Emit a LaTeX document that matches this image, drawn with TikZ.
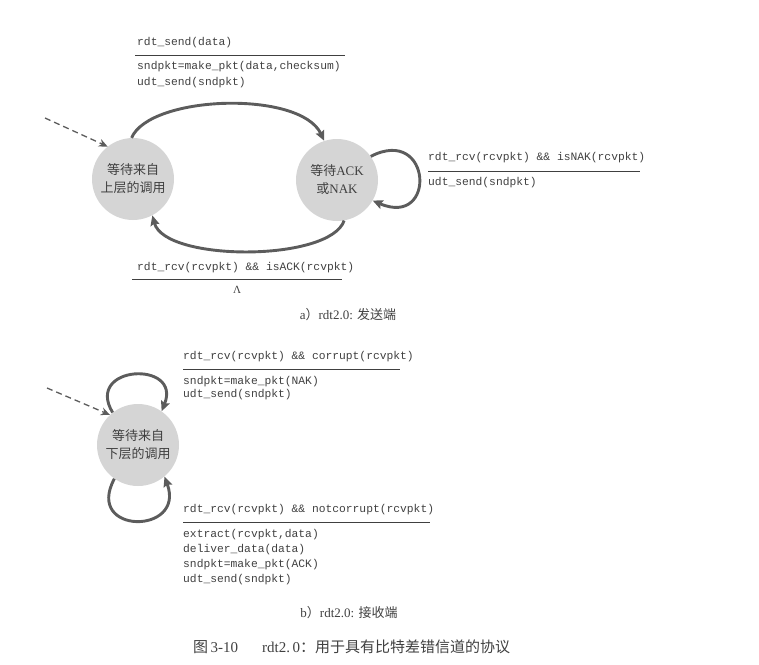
\documentclass[tikz,border=0pt]{standalone}
\usepackage{fontspec}
\setmainfont{Liberation Serif}
\setmonofont{Liberation Mono}
\newfontfamily\cjk{Noto Sans CJK SC}
\usetikzlibrary{arrows.meta}
\definecolor{statefill}{HTML}{D5D5D5}
\definecolor{arrowgray}{HTML}{5C5C5C}
\definecolor{inkgray}{HTML}{404040}
\begin{document}
\begin{tikzpicture}[x=1pt,y=-1pt,
  state/.style={circle,fill=statefill,minimum size=82pt,inner sep=0pt,
    align=center,text=inkgray,font=\fontsize{13}{18}\selectfont},
  trans/.style={draw=arrowgray,line width=2.9pt,
    -{Stealth[length=10pt,width=9pt,inset=1.5pt]}},
  initarrow/.style={draw=arrowgray,line width=1.3pt,dash pattern=on 6pt off 4pt,
    -{Stealth[length=9pt,width=8pt]}},
  code/.style={anchor=west,inner sep=0pt,text=inkgray,
    font=\ttfamily\fontsize{11.3}{15}\selectfont},
  rule/.style={draw=inkgray,line width=0.8pt},
  sublabel/.style={inner sep=0pt,text=inkgray,font=\fontsize{13}{15}\selectfont},
  figcap/.style={anchor=west,inner sep=0pt,text=inkgray,font=\fontsize{15}{17}\selectfont}]
\useasboundingbox (0,0) rectangle (759,664);

% ---------- sender ----------
\node[state] (s1) at (133,179) {{\cjk 等待来自}\\{\cjk 上层的调用}};
\node[state] (s2) at (337,180) {{\cjk 等待}ACK\\{\cjk 或}NAK};

\coordinate (s0) at (45,118);
\draw[initarrow] (s0) -- (s1.128);

\draw[trans] (s1.92) .. controls (150,95) and (300,90) .. (s2.108);
\draw[trans] (s2.-80) .. controls (330,262) and (165,262) .. (s1.-62);
\draw[trans] (s2.35) .. controls (432,125) and (437,228) .. (s2.-30);

\node[code] (t1a) at (137,43) {rdt\_send(data)};
\coordinate (r1a) at (135,55);
\coordinate (r1b) at (345,55);
\draw[rule] (r1a) -- (r1b);
\node[code] (t1b) at (137,67) {sndpkt=make\_pkt(data,checksum)};
\node[code] (t1c) at (137,83) {udt\_send(sndpkt)};

\node[code] (t2a) at (428,158) {rdt\_rcv(rcvpkt) \&\& isNAK(rcvpkt)};
\coordinate (r2a) at (428,171);
\coordinate (r2b) at (640,171);
\draw[rule] (r2a) -- (r2b);
\node[code] (t2b) at (428,183) {udt\_send(sndpkt)};

\node[code] (t3a) at (137,268) {rdt\_rcv(rcvpkt) \&\& isACK(rcvpkt)};
\coordinate (r3a) at (132,279);
\coordinate (r3b) at (342,279);
\draw[rule] (r3a) -- (r3b);
\node[inner sep=0pt,text=inkgray,font=\fontsize{11}{13}\selectfont] (t3b) at (237,290) {Λ};

\node[sublabel] (capa) at (348,315) {a{\cjk ）}rdt2.0: {\cjk 发送端}};

% ---------- receiver ----------
\node[state] (r1) at (138,445) {{\cjk 等待来自}\\{\cjk 下层的调用}};

\coordinate (r0) at (47,388);
\draw[initarrow] (r0) -- (r1.133);

\draw[trans] (r1.128) .. controls (84,365) and (182,360) .. (r1.55);
\draw[trans] (r1.-125) .. controls (84,535) and (186,535) .. (r1.-50);

\node[code] (u1a) at (183,357) {rdt\_rcv(rcvpkt) \&\& corrupt(rcvpkt)};
\coordinate (q1a) at (183,369);
\coordinate (q1b) at (400,369);
\draw[rule] (q1a) -- (q1b);
\node[code] (u1b) at (183,382) {sndpkt=make\_pkt(NAK)};
\node[code] (u1c) at (183,395) {udt\_send(sndpkt)};

\node[code] (u2a) at (183,510) {rdt\_rcv(rcvpkt) \&\& notcorrupt(rcvpkt)};
\coordinate (q2a) at (183,522);
\coordinate (q2b) at (430,522);
\draw[rule] (q2a) -- (q2b);
\node[code] (u2b) at (183,535) {extract(rcvpkt,data)};
\node[code] (u2c) at (183,550) {deliver\_data(data)};
\node[code] (u2d) at (183,565) {sndpkt=make\_pkt(ACK)};
\node[code] (u2e) at (183,580) {udt\_send(sndpkt)};

\node[sublabel] (capb) at (349,613) {b{\cjk ）}rdt2.0: {\cjk 接收端}};

% ---------- figure caption ----------
\node[figcap] (cap) at (193,647) {{\cjk 图}\,3-10\hspace{1.6em}rdt2.\,0{\cjk ：用于具有比特差错信道的协议}};
\end{tikzpicture}
\end{document}
